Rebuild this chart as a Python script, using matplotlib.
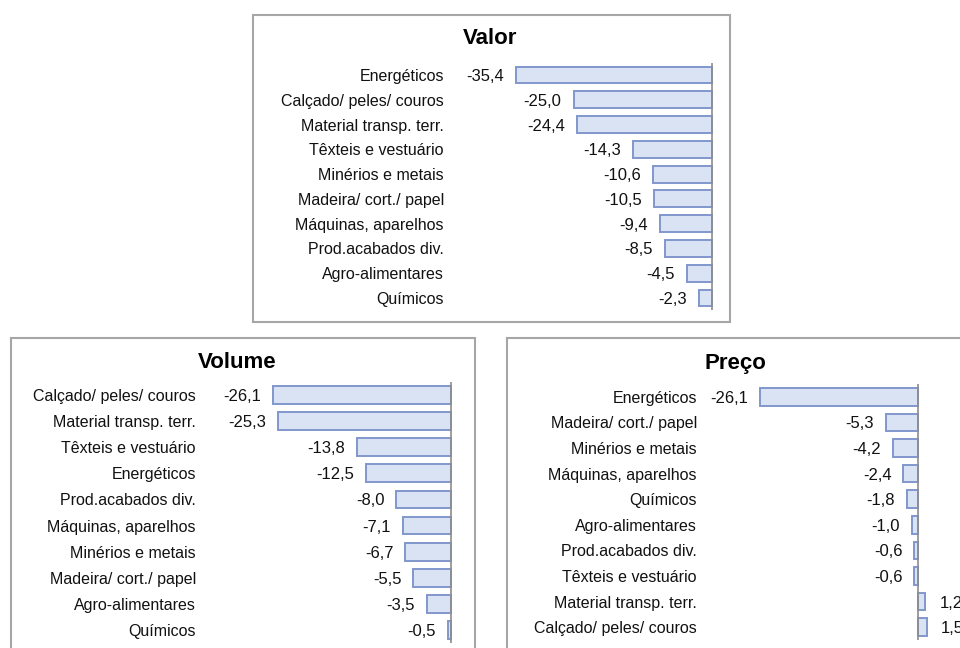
import matplotlib.pyplot as plt
from matplotlib.patches import Rectangle
import numpy as np

plt.rcParams["font.family"] = ["Liberation Sans", "DejaVu Sans"]

W, H = 960, 648

valor_labels = ["Energéticos", "Calçado/ peles/ couros", "Material transp. terr.",
                "Têxteis e vestuário", "Minérios e metais", "Madeira/ cort./ papel",
                "Máquinas, aparelhos", "Prod.acabados div.", "Agro-alimentares", "Químicos"]
valor_values = [-35.4, -25.0, -24.4, -14.3, -10.6, -10.5, -9.4, -8.5, -4.5, -2.3]

volume_labels = ["Calçado/ peles/ couros", "Material transp. terr.", "Têxteis e vestuário",
                 "Energéticos", "Prod.acabados div.", "Máquinas, aparelhos",
                 "Minérios e metais", "Madeira/ cort./ papel", "Agro-alimentares", "Químicos"]
volume_values = [-26.1, -25.3, -13.8, -12.5, -8.0, -7.1, -6.7, -5.5, -3.5, -0.5]

preco_labels = ["Energéticos", "Madeira/ cort./ papel", "Minérios e metais",
                "Máquinas, aparelhos", "Químicos", "Agro-alimentares", "Prod.acabados div.",
                "Têxteis e vestuário", "Material transp. terr.", "Calçado/ peles/ couros"]
preco_values = [-26.1, -5.3, -4.2, -2.4, -1.8, -1.0, -0.6, -0.6, 1.2, 1.5]

BAR_FACE = "#dae3f3"
BAR_EDGE = "#8197cc"
TEXT = "#111111"


def fig_rect(x0, y0, x1, y1):
    # pixel box (top-left origin) -> figure fraction [left, bottom, width, height]
    return [x0 / W, 1 - y1 / H, (x1 - x0) / W, (y1 - y0) / H]


def draw_panel(fig, box, title, title_xy, ax_px, zero_px, px_per_unit, labels, values):
    bx0, by0, bx1, by1 = box
    fig.patches.append(Rectangle((bx0 / W, 1 - by1 / H), (bx1 - bx0) / W, (by1 - by0) / H,
                                 transform=fig.transFigure, facecolor="none",
                                 edgecolor="#a6a6a6", linewidth=1.5, zorder=-1))
    fig.text(title_xy[0] / W, 1 - title_xy[1] / H, title, ha="center", va="center",
             fontsize=16, fontweight="bold", color="black")

    x0, y0, x1, y1 = ax_px
    ax = fig.add_axes(fig_rect(x0, y0, x1, y1))
    ax.patch.set_alpha(0)
    ax.set_xlim(-(zero_px - x0) / px_per_unit, (x1 - zero_px) / px_per_unit)
    n = len(values)
    y = np.arange(n)
    ax.barh(y, values, height=0.68, color=BAR_FACE, edgecolor=BAR_EDGE, linewidth=1.4)
    ax.set_ylim(n - 0.5, -0.5)
    ax.axvline(0, color="#8c8c8c", linewidth=1.2)
    ax.set_yticks(y)
    ax.set_yticklabels(labels, fontsize=11.5, color=TEXT)
    ax.tick_params(axis="y", length=0, pad=3)
    ax.set_xticks([])
    for s in ax.spines.values():
        s.set_visible(False)

    for yi, v in zip(y, values):
        txt = f"{v:.1f}".replace(".", ",")
        if v < 0:
            ax.annotate(txt, (v, yi), xytext=(-12, 0), textcoords="offset pixels",
                        ha="right", va="center_baseline", fontsize=12, color=TEXT,
                        annotation_clip=False)
        else:
            ax.annotate(txt, (v, yi), xytext=(14, 0), textcoords="offset pixels",
                        ha="left", va="center_baseline", fontsize=12, color=TEXT,
                        annotation_clip=False)
    return ax


fig = plt.figure(figsize=(W / 100, H / 100), dpi=100)

draw_panel(fig, (253, 15, 730, 322), "Valor", (490, 38),
           (448, 62.6, 714, 310.4), 712, 5.54, valor_labels, valor_values)
draw_panel(fig, (11, 338, 475, 660), "Volume", (237, 362),
           (200, 382, 453, 643), 451, 6.82, volume_labels, volume_values)
draw_panel(fig, (507, 338, 975, 660), "Preço", (735, 363),
           (701, 384, 960, 640), 918, 6.05, preco_labels, preco_values)

fig.savefig("out.png", dpi=100)
